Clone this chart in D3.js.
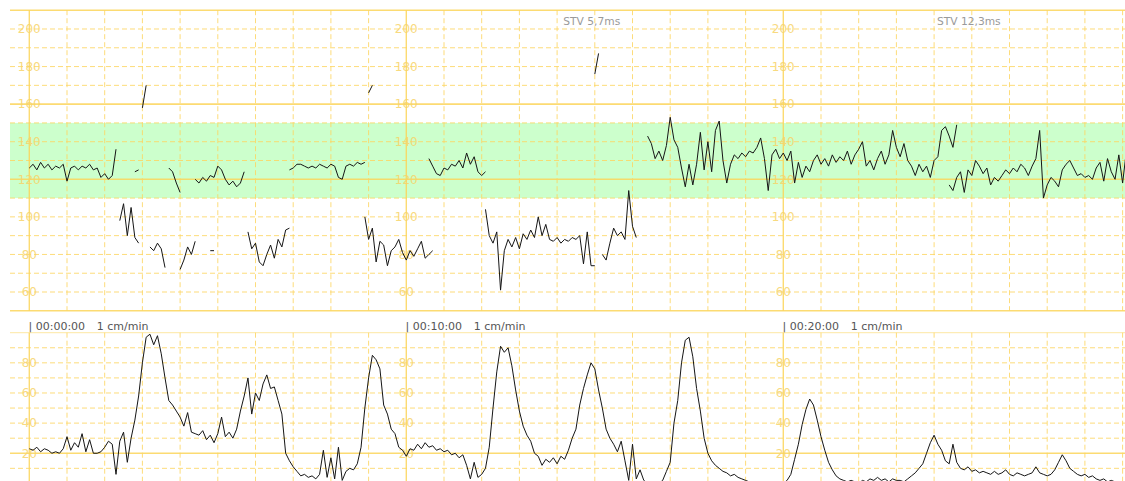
<!DOCTYPE html>
<html>
<head>
<meta charset="utf-8">
<script src="https://cdn.jsdelivr.net/npm/d3@7"></script>
<style>
  html, body { margin: 0; padding: 0; background: #fff; }
  svg { display: block; }
</style>
</head>
<body>
<svg id="ctg" width="1125" height="481"></svg>
<script>
// ---- recording data -------------------------------------------------------
// Samples are spaced 0.1 min apart (1 cm/min paper speed).
const sampleStep = 0.1;

// Fetal heart rate (bpm): each row is [start minute, consecutive samples].
// Separate rows leave gaps where the signal was lost.
const fhrTrace = [
  [0.0,  [126,128,125,129,126,128,125,127,126,128,119,126,127,125,127,126,128,125,126,121,123,120,122,136]],
  [2.4,  [98,107,90,105,89,86]],
  [2.8,  [124,125]],
  [3.0,  [158,170]],
  [3.2,  [84,82,86,83,73]],
  [3.7,  [126,124,118,113]],
  [4.0,  [72,77,84,80,87]],
  [4.4,  [120,118,121,119,122,121,127,125,120,117,119,116,118,124]],
  [4.8,  [82,82]],
  [5.8,  [92,83,86,76,74,80,85,78,88,84,93,94]],
  [6.9,  [125,126,128,128,127,126,127,126,128,127,126,128,127,121,120,127,128,127,129,128,129]],
  [8.9,  [100,88,94,76,87,85,74,82,84,88,81,77,82,79,83,87,78,80,82]],
  [9.0,  [166,170]],
  [10.6, [131,127,123,122,126,125,128,127,130,126,134,128,132,124,122,124]],
  [12.1, [104,90,86,92,61,82,88,84,89,83,91,88,93,89,100,90,96,88,87,89,86,88,87,89,88,90,75,92,74,74]],
  [15.0, [176,187]],
  [15.2, [80,77,86,94,90,92,88,114,95,89]],
  [16.4, [143,139,131,135,130,138,153,141,137,126,116,128,117,128,145,125,140,124,146,151,
          130,118,128,133,131,134,132,135,134,137,142,131,114,133,136,131,134,130,135,118,
          129,121,127,124,130,133,128,131,127,133,129,132,130,135,128,133,136,140,127,130,
          125,131,135,128,133,146,137,132,139,130,127,122,128,124,127,121,130,132,146,148,
          143,137,149]],
  [24.4, [117,114,121,124,113,125,122,130,127,123,126,117,121,119,122,125,123,126,124,128,
          126,122,127,131,146,110,117,121,119,116,125,128,130,126,122,123,121,122,120,126,
          129,119,131,124,120,133,118,135]]
];

// Uterine activity (relative units), continuous from minute 0.
const ucValues = [
  23,22,24,21,23,22,20,21,20,23,31,22,27,24,33,21,29,20,20,21,
  24,28,26,6,28,34,14,30,42,58,80,97,99,92,98,86,70,55,52,48,
  44,38,47,34,33,32,35,29,32,27,33,44,31,34,30,36,48,58,70,46,
  60,55,66,72,63,64,55,46,20,15,11,8,5,6,4,5,3,6,22,4,
  17,3,24,2,8,10,9,13,24,50,70,85,82,76,52,46,36,33,24,22,
  18,23,22,26,23,27,24,25,22,23,21,22,19,20,17,19,12,3,14,4,
  6,10,24,50,74,91,87,90,78,62,48,38,32,28,20,18,12,16,14,17,
  13,18,16,22,30,36,52,63,72,80,76,62,50,36,30,26,21,28,15,2,
  26,3,9,2,0,0,0,0,2,8,14,40,55,80,95,97,84,63,48,30,
  20,15,12,10,8,7,5,6,4,3,2,1,1,0,0,1,0,1,0,1,
  0,2,6,16,26,39,49,56,52,42,31,22,14,9,5,3,2,1,2,1,
  0,2,1,3,2,4,2,3,1,3,2,2,1,3,5,7,10,13,20,27,
  32,26,22,15,13,26,14,10,9,11,8,9,7,8,7,6,8,6,7,9,
  6,5,7,6,5,6,7,11,7,6,5,6,9,14,19,15,10,8,6,5,
  6,4,5,3,2,3,1,2,1,0,1,0
];

// Axis labels and annotations
const fhrTicks = [200, 180, 160, 140, 120, 100, 80, 60];
const ucTicks = [80, 60, 40, 20];
const labelMinutes = [0, 10, 20];
const timeStamps = ["00:00:00", "00:10:00", "00:20:00"];
const paperSpeed = "1 cm/min";
const stvMinutes = [15, 25];
const stvLabels = ["STV 5,7ms", "STV 12,3ms"];
const normalBand = [110, 150];

// ---- scales ----------------------------------------------------------------
const W = 1125, H = 481;
const x = d3.scaleLinear().domain([0, 29]).range([29.3, 29.3 + 37.7 * 29]);
const yFhr = d3.scaleLinear().domain([50, 210]).range([310.8, 10.2]);
const yUc = d3.scaleLinear().domain([0, 100]).range([483.4, 332.7]);
const plotLeft = 10;

const svg = d3.select("#ctg");
svg.append("rect").attr("width", W).attr("height", H).attr("fill", "#fff");

const gridSolid = "#fcd55a";
const gridDash = "#fdd764";
const minutes = d3.range(0, 30);

// ---- FHR panel -------------------------------------------------------------
const fhrPanel = svg.append("g");
fhrPanel.append("rect")
  .attr("x", plotLeft).attr("width", W - plotLeft)
  .attr("y", yFhr(normalBand[1]))
  .attr("height", yFhr(normalBand[0]) - yFhr(normalBand[1]))
  .attr("fill", "#ccffcc");

const fhrLevels = d3.range(50, 211, 10);
const fhrSolid = new Set([210, 160, 120, 50]);
fhrPanel.selectAll("line.h").data(fhrLevels).join("line")
  .attr("x1", plotLeft).attr("x2", W)
  .attr("y1", d => yFhr(d)).attr("y2", d => yFhr(d))
  .attr("stroke", d => fhrSolid.has(d) ? gridSolid : gridDash)
  .attr("stroke-width", d => fhrSolid.has(d) ? 1.6 : 1)
  .attr("stroke-dasharray", d => fhrSolid.has(d) ? null : "5,3")
  .attr("opacity", 0.85);

fhrPanel.selectAll("line.v").data(minutes).join("line")
  .attr("x1", d => x(d)).attr("x2", d => x(d))
  .attr("y1", yFhr(210)).attr("y2", yFhr(50))
  .attr("stroke", d => d % 10 === 0 ? gridSolid : gridDash)
  .attr("stroke-width", d => d % 10 === 0 ? 1.4 : 1)
  .attr("stroke-dasharray", d => d % 10 === 0 ? null : "5,3")
  .attr("opacity", 0.85);

labelMinutes.forEach(m => {
  fhrPanel.append("g").selectAll("text").data(fhrTicks).join("text")
    .attr("x", x(m)).attr("y", d => yFhr(d) + 4.3)
    .attr("text-anchor", "middle")
    .attr("font-family", "DejaVu Sans, sans-serif")
    .attr("font-size", 12)
    .attr("fill", "#f7d46a")
    .attr("opacity", 0.85)
    .text(d => d);
});

fhrPanel.append("g").selectAll("text").data(stvMinutes).join("text")
  .attr("x", d => x(d) - 3).attr("y", 25)
  .attr("text-anchor", "middle")
  .attr("font-family", "DejaVu Sans, sans-serif")
  .attr("font-size", 10.7)
  .attr("fill", "#9a9a9a")
  .text((d, i) => stvLabels[i]);

// ---- time stamps -----------------------------------------------------------
labelMinutes.forEach((m, i) => {
  svg.append("text")
    .attr("x", x(m) - 0.8).attr("y", 329.5)
    .attr("font-family", "DejaVu Sans, sans-serif")
    .attr("font-size", 11)
    .attr("fill", "#555")
    .text("| " + timeStamps[i]);
  svg.append("text")
    .attr("x", x(m) + 67.5).attr("y", 329.5)
    .attr("font-family", "DejaVu Sans, sans-serif")
    .attr("font-size", 11)
    .attr("fill", "#555")
    .text(paperSpeed);
});

// ---- UC panel --------------------------------------------------------------
const ucPanel = svg.append("g");
const ucLevels = d3.range(0, 101, 10);
const ucSolid = new Set([100, 20, 0]);
ucPanel.selectAll("line.h").data(ucLevels).join("line")
  .attr("x1", plotLeft).attr("x2", W)
  .attr("y1", d => yUc(d)).attr("y2", d => yUc(d))
  .attr("stroke", d => ucSolid.has(d) ? gridSolid : gridDash)
  .attr("stroke-width", d => d === 20 ? 1.6 : 1)
  .attr("stroke-dasharray", d => ucSolid.has(d) ? null : "5,3")
  .attr("opacity", d => d === 100 ? 0.55 : 0.85);

ucPanel.selectAll("line.v").data(minutes).join("line")
  .attr("x1", d => x(d)).attr("x2", d => x(d))
  .attr("y1", yUc(100)).attr("y2", H)
  .attr("stroke", d => d % 10 === 0 ? gridSolid : gridDash)
  .attr("stroke-width", d => d % 10 === 0 ? 1.4 : 1)
  .attr("stroke-dasharray", d => d % 10 === 0 ? null : "5,3")
  .attr("opacity", 0.85);

labelMinutes.forEach(m => {
  ucPanel.append("g").selectAll("text").data(ucTicks).join("text")
    .attr("x", x(m)).attr("y", d => yUc(d) + 4.3)
    .attr("text-anchor", "middle")
    .attr("font-family", "DejaVu Sans, sans-serif")
    .attr("font-size", 12)
    .attr("fill", "#f7d46a")
    .attr("opacity", 0.85)
    .text(d => d);
});

// ---- traces ----------------------------------------------------------------
svg.append("clipPath").attr("id", "plotClip")
  .append("rect").attr("x", plotLeft).attr("y", 0).attr("width", W - plotLeft).attr("height", H);

const fhrLine = d3.line()
  .x(d => x(d.t)).y(d => yFhr(d.v));
const fhrPaths = fhrTrace.map(([start, vals]) =>
  vals.map((v, i) => ({ t: start + i * sampleStep, v })));
svg.append("g").attr("clip-path", "url(#plotClip)")
  .selectAll("path").data(fhrPaths).join("path")
  .attr("d", fhrLine)
  .attr("fill", "none")
  .attr("stroke", "#151515")
  .attr("stroke-width", 1)
  .attr("stroke-linejoin", "round");

const ucLine = d3.line()
  .x((d, i) => x(i * sampleStep)).y(d => yUc(d));
svg.append("g").attr("clip-path", "url(#plotClip)")
  .append("path").datum(ucValues)
  .attr("d", ucLine)
  .attr("fill", "none")
  .attr("stroke", "#151515")
  .attr("stroke-width", 1)
  .attr("stroke-linejoin", "round");
</script>
</body>
</html>
